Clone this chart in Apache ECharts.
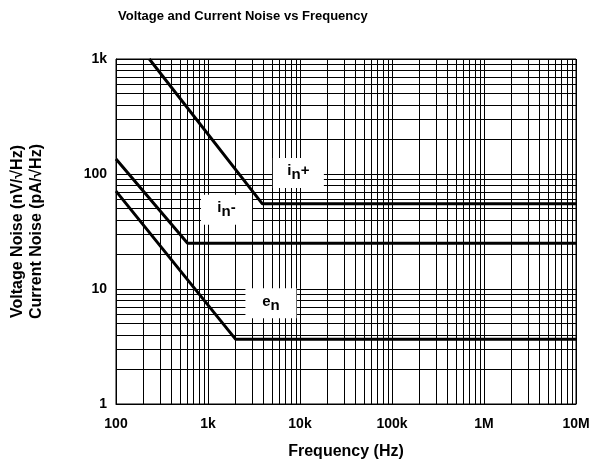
<!DOCTYPE html>
<html><head><meta charset="utf-8">
<script src="https://cdn.jsdelivr.net/npm/echarts@6/dist/echarts.min.js"></script>
<style>html,body{margin:0;padding:0;background:#fff}#c{width:599px;height:465px}</style>
</head><body><div id="c"></div>
<script>
// ---- data ----
const xTickLabels = ['100', '1k', '10k', '100k', '1M', '10M'];
const yTickLabels = ['1', '10', '100', '1k'];
const inPlusFreq = [230, 3900, 1e7];
const inPlusNoise = [1000, 55, 55];
const inMinusFreq = [100, 600, 1e7];
const inMinusNoise = [135, 25, 25];
const enFreq = [100, 2000, 1e7];
const enNoise = [71, 3.65, 3.65];
const curveLabels = ['{a|i}{b|n}{a|+}', '{a|i}{b|n}{a|-}', '{a|e}{b|n}'];
const labelFreq = [9600, 1590, 4830];
const labelNoise = [102, 49, 7.5];
const minorMultipliers = [2, 3, 4, 5, 6, 7, 8, 9];
const xDecades = [100, 1e3, 1e4, 1e5, 1e6];
const yDecades = [1, 10, 100];

const FONT = '"Liberation Sans", Arial, Helvetica, sans-serif';
const zip = (a, b) => a.map((v, i) => [v, b[i]]);

const xMinor = xDecades.flatMap(d => minorMultipliers.map(m => ({ xAxis: d * m })));
const yMinor = yDecades.flatMap(d => minorMultipliers.map(m => ({ yAxis: d * m })));

const rich = {
  a: { fontFamily: FONT, fontWeight: 'bold', fontSize: 15, color: '#000', lineHeight: 16, verticalAlign: 'top' },
  b: { fontFamily: FONT, fontWeight: 'bold', fontSize: 15, color: '#000', lineHeight: 19, verticalAlign: 'bottom' }
};

function curve(name, fx, fy, idx, extra) {
  const s = {
    name: name,
    type: 'line',
    data: zip(fx, fy),
    symbol: 'none',
    z: 3,
    lineStyle: { color: '#000', width: 3 },
    emphasis: { disabled: true },
    markPoint: {
      z: 4,
      silent: true,
      symbol: 'rect',
      symbolSize: [51, 30],
      itemStyle: { color: '#fff' },
      label: { show: true, position: 'inside', formatter: curveLabels[idx], rich: rich },
      data: [{ coord: [labelFreq[idx], labelNoise[idx]] }]
    }
  };
  return Object.assign(s, extra || {});
}

const chart = echarts.init(document.getElementById('c'));
chart.setOption({
  animation: false,
  backgroundColor: '#fff',
  title: {
    text: 'Voltage and Current Noise vs Frequency',
    left: 113, top: 5,
    textStyle: { fontFamily: FONT, fontWeight: 'bold', fontSize: 13, color: '#000' }
  },
  grid: { left: 116, right: 23, top: 59, bottom: 60, show: true, borderColor: '#000', borderWidth: 1, containLabel: false },
  xAxis: {
    type: 'log', logBase: 10, min: 100, max: 1e7,
    name: 'Frequency (Hz)', nameLocation: 'middle', nameGap: 40,
    nameTextStyle: { fontFamily: FONT, fontWeight: 'bold', fontSize: 16, color: '#000' },
    axisLine: { show: true, lineStyle: { color: '#000', width: 1 } },
    axisTick: { show: false },
    axisLabel: {
      margin: 13, fontFamily: FONT, fontWeight: 'bold', fontSize: 14, color: '#000',
      formatter: v => xTickLabels[Math.round(Math.log10(v)) - 2]
    },
    splitLine: { show: true, lineStyle: { color: '#000', width: 1 } }
  },
  yAxis: {
    type: 'log', logBase: 10, min: 1, max: 1000,
    name: 'Voltage Noise (nV/\u221AHz)\nCurrent Noise (pA/\u221AHz)', nameLocation: 'middle', nameGap: 70, nameRotate: 90,
    nameTextStyle: { fontFamily: FONT, fontWeight: 'bold', fontSize: 16, color: '#000', lineHeight: 19, align: 'center' },
    axisLine: { show: true, lineStyle: { color: '#000', width: 1 } },
    axisTick: { show: false },
    axisLabel: {
      margin: 9, fontFamily: FONT, fontWeight: 'bold', fontSize: 14, color: '#000',
      formatter: v => yTickLabels[Math.round(Math.log10(v))]
    },
    splitLine: { show: true, lineStyle: { color: '#000', width: 1 } }
  },
  series: [
    curve('in+', inPlusFreq, inPlusNoise, 0, {
      markLine: {
        z: 1, silent: true, symbol: ['none', 'none'],
        label: { show: false },
        lineStyle: { color: '#000', width: 1, type: 'solid' },
        emphasis: { disabled: true },
        data: xMinor.concat(yMinor)
      }
    }),
    curve('in-', inMinusFreq, inMinusNoise, 1),
    curve('en', enFreq, enNoise, 2)
  ]
});
</script></body></html>
